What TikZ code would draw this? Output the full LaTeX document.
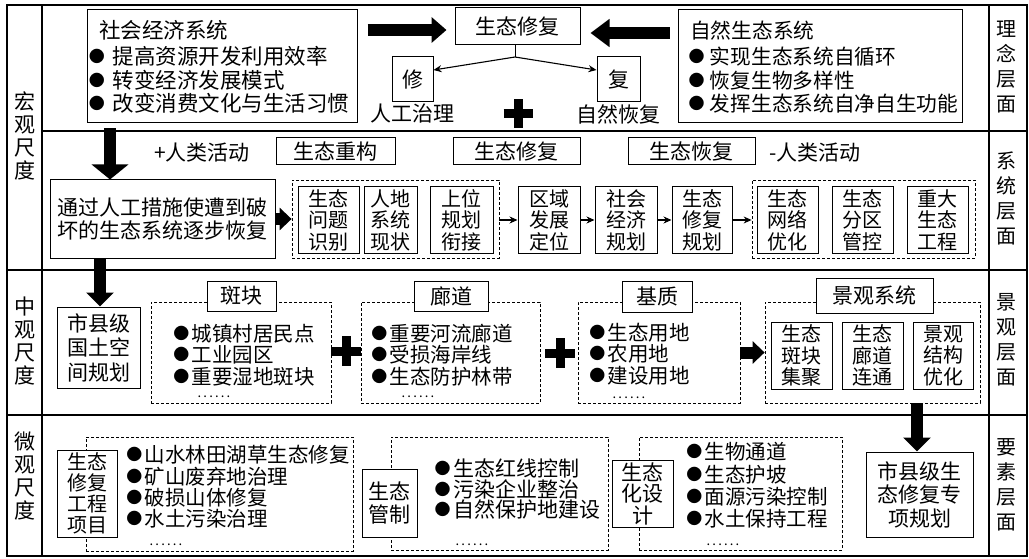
\documentclass[tikz,border=0pt]{standalone}
\usepackage{fontspec}
\setmainfont{Noto Sans CJK SC}
\usetikzlibrary{arrows.meta}
\newcommand\zf[2]{\fontsize{#1}{#2}\selectfont}
\newcommand\bu{\makebox[1em][c]{\raisebox{0.1em}{\zf{16}{16}●}}}
\newcommand\dd{.\kern2.2pt.\kern2.2pt.\kern2.2pt.\kern2.2pt.\kern2.2pt.}
\begin{document}
\begin{tikzpicture}[x=1pt,y=-1pt,
  every node/.style={inner sep=0pt, font=\zf{21}{24}},
  box/.style={draw, line width=1pt, fill=white, align=center},
  ib/.style={box, minimum height=66pt, font=\zf{20}{21.5}},
  dbox/.style={draw, line width=0.8pt, dash pattern=on 3pt off 2pt},
  grid/.style={line width=1.2pt},
  side/.style={align=center, font=\zf{21}{23}},
  sider/.style={align=center, font=\zf{20}{25}},
  bul/.style={align=left, anchor=west, font=\zf{20.5}{21.5}},
  dots/.style={font=\zf{13}{13}},
  bigR/.style={line width=12pt, -{Triangle[length=15pt,width=25pt]}},
  bigL/.style={line width=12pt, -{Triangle[length=19pt,width=27pt]}},
  bigS/.style={line width=12pt, -{Triangle[length=12pt,width=22pt]}},
  bigD/.style={line width=12pt, -{Triangle[length=15pt,width=36pt]}},
  bigD2/.style={line width=12pt, -{Triangle[length=14pt,width=27pt]}},
  thinarrow/.style={line width=1.1pt, -{Stealth[length=8pt,width=7pt]}},
  plusbar/.style={line width=9pt}
]
\useasboundingbox (0,0) rectangle (1029,559);
% frame
\draw[grid] (7,5) rectangle (1027,556);
\draw[grid] (42,5) -- (42,556);
\draw[grid] (989,5) -- (989,556);
\draw[grid] (42,131) -- (1027,131);
\draw[grid] (7,270) -- (1027,270);
\draw[grid] (7,415) -- (1027,415);
% side labels
\node[side] (lh) at (24.5,136) {宏\\观\\尺\\度};
\node[side] (lz) at (24.5,341) {中\\观\\尺\\度};
\node[side] (lw) at (24.5,476) {微\\观\\尺\\度};
\node[sider] (rl) at (1006,67) {理\\念\\层\\面};
\node[sider] (rs) at (1006,198) {系\\统\\层\\面};
\node[sider] (rj) at (1006,340) {景\\观\\层\\面};
\node[sider] (ry) at (1006,485) {要\\素\\层\\面};

% row 1
\node[box, minimum width=270pt, minimum height=113pt] (soc) at (222,66.5) {};
\node[anchor=west, align=left, font=\zf{21.5}{23.5}] (soct) at (86,67) {\hspace*{13pt}社会经济系统\\[3pt]\bu\hspace{5pt}提高资源开发利用效率\\\bu\hspace{5pt}转变经济发展模式\\\bu\hspace{5pt}改变消费文化与生活习惯};
\node[box, minimum width=125pt, minimum height=37pt] (smain) at (517.5,26.5) {生态修复};
\node[box, minimum width=41pt, minimum height=45pt] (xiu) at (412.5,79.5) {修};
\node[box, minimum width=43pt, minimum height=45pt] (fu) at (618.5,79.5) {复};
\node (rg) at (412,114) {人工治理};
\node (zr) at (618,114) {自然恢复};
\node[box, minimum width=284pt, minimum height=113pt] (nat) at (820,66.5) {};
\node[anchor=west, align=left, font=\zf{20.7}{23.5}] (natt) at (686,67) {\hspace*{4pt}自然生态系统\\[3pt]\bu\hspace{3pt}实现生态系统自循环\\\bu\hspace{3pt}恢复生物多样性\\\bu\hspace{3pt}发挥生态系统自净自生功能};
\coordinate (fork) at (515,57);
\draw[line width=1pt] (smain.south -| fork) -- (fork);
\draw[thinarrow] (fork) -- ([yshift=9.5pt]xiu.east);
\draw[thinarrow] (fork) -- ([yshift=9.5pt]fu.west);
\coordinate (ya) at (0,30);
\coordinate (yb) at (0,33);
\draw[bigR, shorten <=10pt, shorten >=8pt] (soc.east |- ya) -- (smain.west |- ya);
\draw[bigL, shorten <=8pt, shorten >=10pt] (nat.west |- yb) -- (smain.east |- yb);
\draw[plusbar] (503.5,114) -- (532.5,114) (518,99.5) -- (518,128.5);

% row 2
\node (ph) at (202,153) {+人类活动};
\node[box, minimum width=119pt, minimum height=27pt] (cg) at (335.5,151.5) {生态重构};
\node[box, minimum width=127pt, minimum height=27pt] (xf) at (516.5,151.5) {生态修复};
\node[box, minimum width=127pt, minimum height=27pt] (hf) at (691.5,151.5) {生态恢复};
\node (mh) at (815,153) {-人类活动};
\node[box, minimum width=225pt, minimum height=78pt, font=\zf{21}{23}] (big) at (162.5,219) {通过人工措施使遭到破\\坏的生态系统逐步恢复};
\node[dbox, minimum width=207pt, minimum height=78pt] (gA) at (395.5,219) {};
\node[ib, minimum width=61pt] (b11) at (328.5,220) {生态\\问题\\识别};
\node[ib, minimum width=53pt] (b12) at (390.5,220) {人地\\系统\\现状};
\node[ib, minimum width=63pt] (b13) at (461.5,220) {上位\\规划\\衔接};
\node[ib, minimum width=62pt] (r1) at (549,220) {区域\\发展\\定位};
\node[ib, minimum width=62pt] (r2) at (626,220) {社会\\经济\\规划};
\node[ib, minimum width=60pt] (r3) at (702,220) {生态\\修复\\规划};
\node[dbox, minimum width=223pt, minimum height=78pt] (gB) at (863.5,219) {};
\node[ib, minimum width=61pt] (b21) at (787.5,220) {生态\\网络\\优化};
\node[ib, minimum width=61pt] (b22) at (862.5,220) {生态\\分区\\管控};
\node[ib, minimum width=61pt] (b23) at (937.5,220) {重大\\生态\\工程};
\coordinate (xa) at (110,0);
\draw[bigD, shorten <=5pt] (soc.south -| xa) -- (big.north -| xa);
\draw[bigS] (big.east) -- (gA.west);
\draw[thinarrow] (gA.east |- r1.west) -- (r1.west);
\draw[thinarrow] (r1.east) -- (r2.west);
\draw[thinarrow] (r2.east) -- (r3.west);
\draw[thinarrow] (r3.east) -- (gB.west |- r3.east);

% row 3
\node[box, minimum width=83pt, minimum height=81pt, font=\zf{21}{24.5}] (sx) at (98.5,347.5) {市县级\\国土空\\间规划};
\coordinate (xb) at (100,0);
\draw[bigD2] (big.south -| xb) -- (sx.north -| xb);
\node[dbox, minimum width=180pt, minimum height=101pt] (gP) at (241,352.5) {};
\node[box, minimum width=69pt, minimum height=30pt] (lP) at (241.5,296) {斑块};
\node[bul] (tP) at (171,355) {\bu 城镇村居民点\\\bu 工业园区\\\bu 重要湿地斑块};
\node[dots, anchor=base] (dP) at (214,397) {\dd};
\draw[plusbar] (331,351) -- (361,351) (346,336) -- (346,366);
\node[dbox, minimum width=179pt, minimum height=101pt] (gC) at (450.5,352.5) {};
\node[box, minimum width=74pt, minimum height=30pt] (lC) at (451,296) {廊道};
\node[bul] (tC) at (369,355) {\bu 重要河流廊道\\\bu 受损海岸线\\\bu 生态防护林带};
\node[dots, anchor=base] (dC) at (418,397) {\dd};
\draw[plusbar] (545,353) -- (575,353) (560,338) -- (560,368);
\node[dbox, minimum width=162pt, minimum height=101pt] (gM) at (659,352.5) {};
\node[box, minimum width=70pt, minimum height=31pt] (lM) at (657,296.5) {基质};
\node[bul] (tM) at (587,354) {\bu 生态用地\\\bu 农用地\\\bu 建设用地};
\node[dots, anchor=base] (dM) at (629,398) {\dd};
\node[dbox, minimum width=215pt, minimum height=101pt] (gL) at (872.5,352.5) {};
\draw[bigS] (gM.east) -- (gL.west);
\node[box, minimum width=117pt, minimum height=35pt] (lL) at (874.5,295.5) {景观系统};
\node[ib, minimum width=61pt, minimum height=67pt] (c1) at (801.5,355.5) {生态\\斑块\\集聚};
\node[ib, minimum width=61pt, minimum height=67pt] (c2) at (872.5,355.5) {生态\\廊道\\连通};
\node[ib, minimum width=60pt, minimum height=67pt] (c3) at (943,355.5) {景观\\结构\\优化};

% row 4
\node[dbox, minimum width=267pt, minimum height=114pt] (gE) at (219.5,494) {};
\node[box, minimum width=60pt, minimum height=87pt, font=\zf{20}{21}] (pb) at (87,493.5) {生态\\修复\\工程\\项目};
\node[bul, font=\zf{20.5}{21.3}] (tE) at (124,487) {\bu 山水林田湖草生态修复\\\bu 矿山废弃地治理\\\bu 破损山体修复\\\bu 水土污染治理};
\node[dots, anchor=base] (dE) at (166,545) {\dd};
\node[dbox, minimum width=217pt, minimum height=113pt] (gR) at (499.5,493.5) {};
\node[box, minimum width=55pt, minimum height=68pt, font=\zf{21}{23}] (gz) at (389.5,503) {生态\\管制};
\node[bul, font=\zf{21}{20.5}] (tR) at (432,489.5) {\bu 生态红线控制\\\bu 污染企业整治\\\bu 自然保护地建设};
\node[dots, anchor=base] (dR) at (472,545) {\dd};
\node[dbox, minimum width=203pt, minimum height=113pt] (gD) at (740.5,493.5) {};
\node[box, minimum width=61pt, minimum height=67pt, font=\zf{21}{21.5}] (sh) at (642.5,493.5) {生态\\化设\\计};
\node[bul, font=\zf{20.5}{22.3}] (tD) at (684,485.5) {\bu 生物通道\\\bu 生态护坡\\\bu 面源污染控制\\\bu 水土保持工程};
\node[dots, anchor=base] (dD) at (723,545) {\dd};
\node[box, minimum width=107pt, minimum height=85pt, font=\zf{21}{23.5}] (zx) at (919.5,494.5) {市县级生\\态修复专\\项规划};
\coordinate (xc) at (917,0);
\draw[bigD2] (gL.south -| xc) -- (zx.north -| xc);
\end{tikzpicture}
\end{document}
